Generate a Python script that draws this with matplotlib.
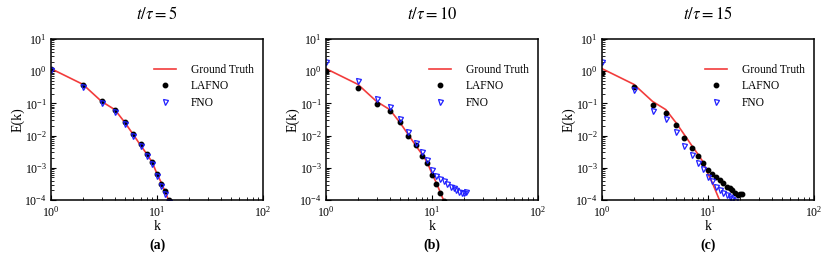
import numpy as np
import matplotlib
matplotlib.use("Agg")
from matplotlib import pyplot as plt
from matplotlib.ticker import LogLocator, NullFormatter

plt.rcParams['font.family'] = ['Liberation Serif', 'DejaVu Serif']
plt.rcParams['mathtext.fontset'] = 'stix'

# ground truth spectrum (same in all panels)
k_gt = [1, 2, 3, 4, 5, 6, 7, 8, 9, 10, 11, 12, 13, 14]
e_gt = [1.2, 0.39, 0.115, 0.064, 0.025, 0.0105, 0.0050, 0.0027, 0.0015,
        6.5e-4, 3.4e-4, 1.7e-4, 9.0e-5, 4.5e-5]

# t/tau = 5
k_a = [1, 2, 3, 4, 5, 6, 7, 8, 9, 10, 11, 12, 13]
lafno_a = [1.2, 0.38, 0.115, 0.064, 0.027, 0.011, 0.0053, 0.0026, 0.0015,
           6.2e-4, 3.2e-4, 1.9e-4, 1.0e-4]
fno_a = [1.1, 0.32, 0.10, 0.055, 0.023, 0.0095, 0.0046, 0.0023, 0.0013,
         5.4e-4, 2.8e-4, 1.55e-4, 8.5e-5]

# t/tau = 10
k_b_lafno = [1, 2, 3, 4, 5, 6, 7, 8, 9, 10, 11, 12, 13]
lafno_b = [1.05, 0.30, 0.098, 0.059, 0.026, 0.010, 0.0050, 0.0024, 0.0014,
           6.1e-4, 3.2e-4, 1.7e-4, 9.5e-5]
k_b_fno = list(range(1, 22))
fno_b = [2.0, 0.51, 0.137, 0.076, 0.033, 0.0127, 0.0059, 0.0030, 0.0018,
         8.7e-4, 5.7e-4, 4.6e-4, 3.8e-4, 3.2e-4, 2.5e-4, 2.3e-4, 2.0e-4,
         1.8e-4, 1.65e-4, 1.7e-4, 1.8e-4]

# t/tau = 15
k_c_lafno = list(range(1, 22))
lafno_c = [0.9, 0.32, 0.088, 0.050, 0.022, 0.0085, 0.0041, 0.0023, 0.0014,
           8.7e-4, 6.6e-4, 5.1e-4, 4.3e-4, 3.4e-4, 2.5e-4, 2.35e-4, 2.0e-4,
           1.7e-4, 1.45e-4, 1.55e-4, 1.55e-4]
k_c_fno = list(range(1, 19))
fno_c = [2.0, 0.27, 0.059, 0.033, 0.013, 0.0049, 0.0025, 0.0014, 9.2e-4,
         5.0e-4, 3.8e-4, 2.6e-4, 2.1e-4, 1.7e-4, 1.4e-4, 1.2e-4, 1.05e-4, 9.0e-5]

panels = [
    ("$t/\\tau = 5$", "(a)", k_a, lafno_a, k_a, fno_a),
    ("$t/\\tau = 10$", "(b)", k_b_lafno, lafno_b, k_b_fno, fno_b),
    ("$t/\\tau = 15$", "(c)", k_c_lafno, lafno_c, k_c_fno, fno_c),
]
lefts = [51 / 830, 326 / 830, 602 / 830]

fig = plt.figure(figsize=(8.3, 2.59), dpi=100)

for left, (title, tag, kl, el, kf, ef) in zip(lefts, panels):
    ax = fig.add_axes([left, 59 / 259, 212 / 830, 161 / 259])
    ax.plot(k_gt, e_gt, '-', color='#f23c3c', lw=1.2, label="Ground Truth")
    ax.plot(kl, el, 'o', color='black', ms=3.2, label="LAFNO")
    ax.plot(kf, ef, 'v', mfc='none', mec='#1f1fff', mew=0.9, ms=3.6, label="FNO")
    ax.set_xscale('log')
    ax.set_yscale('log')
    ax.set_xlim(1, 100)
    ax.set_ylim(1e-4, 10)
    ax.yaxis.set_major_locator(LogLocator(base=10, numticks=10))
    ax.yaxis.set_minor_locator(LogLocator(base=10, subs=np.arange(2, 10), numticks=10))
    ax.yaxis.set_minor_formatter(NullFormatter())
    ax.xaxis.set_minor_formatter(NullFormatter())
    ax.tick_params(which='both', direction='in', labelsize=8.5)
    ax.tick_params(axis='x', pad=3.5)
    ax.tick_params(axis='y', pad=3)
    ax.tick_params(which='major', length=3.5)
    ax.tick_params(which='minor', length=2)
    for s in ax.spines.values():
        s.set_linewidth(1.1)
    ax.set_xlabel("k", fontsize=10, labelpad=0.5)
    ax.set_ylabel("E(k)", fontsize=10, labelpad=0)
    ax.legend(loc='upper right', bbox_to_anchor=(0.99, 0.89), frameon=False,
              fontsize=8.3, handlelength=1.9, handletextpad=1.3,
              labelspacing=0.4, borderaxespad=0.2)
    ax.text(0.5, 1.15, title, transform=ax.transAxes, ha='center', va='center',
            fontsize=12)
    ax.text(0.5, -0.28, tag, transform=ax.transAxes, ha='center', va='center',
            fontsize=10, fontweight='bold')

plt.savefig("out.png", dpi=100)
